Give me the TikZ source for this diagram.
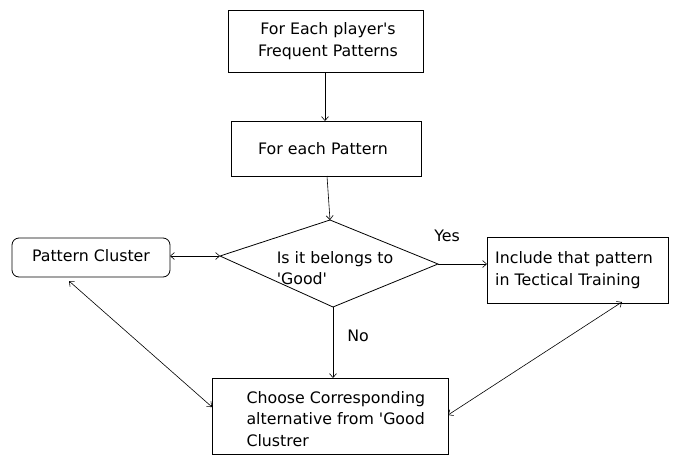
\documentclass[tikz,border=0pt]{standalone}
\usepackage{fontspec}
\setmainfont{DejaVu Sans}
\usetikzlibrary{shapes.geometric,arrows.meta}
\begin{document}
\begin{tikzpicture}[x=1pt,y=-1pt,
  every node/.style={font=\fontsize{15.8}{21.5}\selectfont},
  box/.style={draw,line width=0.8pt,inner sep=0pt},
  conn/.style={line width=0.6pt,-{Straight Barb[length=4pt,width=7pt]}},
  bconn/.style={line width=0.6pt,{Straight Barb[length=4pt,width=7pt]}-{Straight Barb[length=4pt,width=7pt]}}]
\useasboundingbox (0,0) rectangle (683,461);
\draw[box] (228,10) rectangle (423,72);
\node (b1) [minimum width=195pt,minimum height=62pt,inner sep=0pt] at (325.5,41) {};
\node[align=center] at (328,41) {For Each player\textquotesingle s\\Frequent Patterns};
\draw[box] (231,121) rectangle (421,176);
\node (b2) [minimum width=190pt,minimum height=55pt,inner sep=0pt] at (326,148.5) {};
\node at (323,148.5) {For each Pattern};
\coordinate (dt) at (330,220);
\coordinate (dl) at (220,256);
\coordinate (dr) at (438,264);
\coordinate (db) at (333,307);
\draw[line width=0.8pt] (dt) -- (dr) -- (db) -- (dl) -- cycle;
\node[align=left] at (335,268) {Is it belongs to\\\textquotesingle Good\textquotesingle};
\draw[line width=0.8pt,rounded corners=7pt] (12,238) rectangle (170,277);
\node (pc) [minimum width=158pt,minimum height=39pt,inner sep=0pt] at (91,257.5) {};
\node at (91,256) {Pattern Cluster};
\draw[box] (487,237) rectangle (668,303);
\node (inc) [minimum width=181pt,minimum height=66pt,inner sep=0pt] at (577.5,270) {};
\node[align=left] at (574,270) {Include that pattern\\in Tectical Training};
\draw[box] (212,378) rectangle (448,454);
\node (ch) [minimum width=236pt,minimum height=76pt,inner sep=0pt] at (330,416) {};
\node[align=left,anchor=west] at (243,419) {Choose Corresponding\\alternative from \textquotesingle Good\\Clustrer};
\node at (447,236) {Yes};
\node at (358,336) {No};
\draw[conn] (325,72) -- (325,121);
\draw[conn] (327,176) -- (dt);
\draw[bconn] (170,256) -- (dl);
\draw[conn] (dr) -- (487,264);
\draw[conn] (db) -- (333,378);
\coordinate (pcb) at (69,281);
\coordinate (chl) at (212,407);
\draw[bconn] (pcb) -- (chl);
\coordinate (incb) at (622,302);
\coordinate (chr) at (448,415);
\draw[bconn] (incb) -- (chr);
\end{tikzpicture}
\end{document}
